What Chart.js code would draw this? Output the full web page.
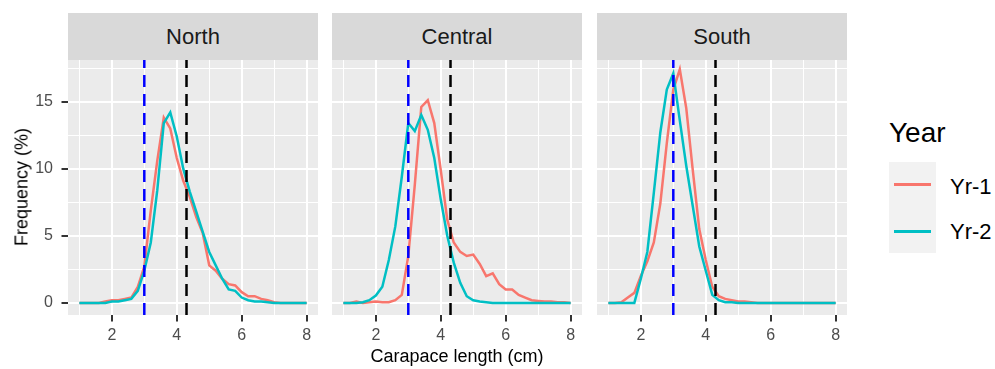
<!DOCTYPE html>
<html>
<head>
<meta charset="utf-8">
<script src="https://cdn.jsdelivr.net/npm/chart.js@4.4.1/dist/chart.umd.min.js"></script>
<style>
  body { margin: 0; background: #fff; font-family: "Liberation Sans", Arial, sans-serif; }
  #wrap { position: relative; width: 995px; height: 369px; overflow: hidden; }
  canvas { position: absolute; }
  .strip { position: absolute; top: 13px; height: 47px; line-height: 47px; background: #D9D9D9;
           color: #1A1A1A; font-size: 22px; text-align: center; }
  .title { position: absolute; font-size: 18px; color: #000; white-space: nowrap; }
  .leg { position: absolute; white-space: nowrap; color: #000; }
</style>
</head>
<body>
<div id="wrap">
  <div class="strip" style="left:68px;width:250px">North</div>
  <div class="strip" style="left:332px;width:250px">Central</div>
  <div class="strip" style="left:597px;width:250px">South</div>

  <canvas id="north" width="318" height="295" style="left:0px;top:60px"></canvas>
  <canvas id="central" width="250" height="295" style="left:332px;top:60px"></canvas>
  <canvas id="south" width="250" height="295" style="left:597px;top:60px"></canvas>

  <div class="title" style="left:22px;top:187px;transform:translate(-50%,-50%) rotate(-90deg)">Frequency (%)</div>
  <div class="title" style="left:457px;top:346px;transform:translateX(-50%)">Carapace length (cm)</div>

  <div class="leg" style="left:889px;top:119px;font-size:28px;line-height:28px">Year</div>
  <div class="leg" style="left:889px;top:162px;width:47px;height:91px;background:#F2F2F2"></div>
  <div class="leg" style="left:894px;top:183px;width:37px;height:2.5px;background:#F8766D"></div>
  <div class="leg" style="left:894px;top:230px;width:37px;height:2.5px;background:#00BFC4"></div>
  <div class="leg" style="left:950px;top:176px;font-size:22px;line-height:22px">Yr-1</div>
  <div class="leg" style="left:950px;top:221px;font-size:22px;line-height:22px">Yr-2</div>
</div>

<script>
// carapace length bins (cm)
const lengths = [1.0, 1.2, 1.4, 1.6, 1.8, 2.0, 2.2, 2.4, 2.6, 2.8, 3.0, 3.2, 3.4, 3.6, 3.8, 4.0, 4.2, 4.4,
                 4.6, 4.8, 5.0, 5.2, 5.4, 5.6, 5.8, 6.0, 6.2, 6.4, 6.6, 6.8, 7.0, 7.2, 7.4, 7.6, 7.8, 8.0];

// frequency (%) per bin
const northYr1 = [0, 0, 0, 0, 0.1, 0.2, 0.2, 0.3, 0.4, 1.2, 2.7, 6.9, 10.6, 13.8, 13.0, 10.8, 9.1, 7.9,
                  6.4, 5.2, 2.8, 2.4, 1.8, 1.4, 1.3, 0.8, 0.5, 0.5, 0.3, 0.2, 0.05, 0, 0, 0, 0, 0];
const northYr2 = [0, 0, 0, 0, 0, 0.1, 0.1, 0.2, 0.3, 0.9, 2.4, 4.5, 8.4, 13.4, 14.2, 12.4, 10.0, 8.3,
                  6.8, 5.3, 3.8, 2.8, 1.8, 1.0, 0.9, 0.4, 0.2, 0.1, 0.1, 0.05, 0, 0, 0, 0, 0, 0];
const centralYr1 = [0, 0, 0.1, 0, 0.05, 0.1, 0.05, 0.05, 0.2, 0.6, 3.5, 8.8, 14.6, 15.1, 13.4, 9.9, 6.2, 4.5,
                    3.8, 3.5, 3.6, 2.9, 2.0, 2.2, 1.4, 1.0, 1.0, 0.6, 0.4, 0.2, 0.15, 0.1, 0.1, 0.05, 0.05, 0];
const centralYr2 = [0, 0, 0, 0.05, 0.2, 0.55, 1.2, 3.2, 5.7, 9.4, 13.4, 12.8, 14.0, 12.9, 10.8, 7.7, 5.0, 3.0,
                    1.5, 0.5, 0.2, 0.1, 0.05, 0, 0, 0, 0, 0, 0, 0, 0, 0, 0, 0, 0, 0];
const southYr1 = [0, 0, 0.05, 0.4, 0.75, 2.0, 3.1, 4.5, 7.4, 11.9, 15.9, 17.4, 14.5, 9.9, 5.5, 3.2, 1.2, 0.5,
                  0.3, 0.2, 0.1, 0.1, 0.05, 0, 0, 0, 0, 0, 0, 0, 0, 0, 0, 0, 0, 0];
const southYr2 = [0, 0, 0, 0, 0, 1.8, 3.8, 8.2, 12.7, 15.9, 17.1, 13.6, 10.2, 7.2, 4.2, 2.4, 0.6, 0.2,
                  0.05, 0.05, 0, 0, 0, 0, 0, 0, 0, 0, 0, 0, 0, 0, 0, 0, 0, 0];

// reference lines (cm)
const blueLine = 3;
const blackLine = 4.3;

// axis ticks
const xTicks = [2, 4, 6, 8];
const yTicks = [0, 5, 10, 15];
const xMinor = xTicks.map(v => v - 1);
const yMinor = yTicks.map(v => v + 2.5);

const xMin = 0.65, xMax = 8.35;
const yMin = -0.9, yMax = 18.1;

const red = "#F8766D";
const teal = "#00BFC4";

const panelBg = {
    id: "panelBg",
    beforeDraw(chart) {
        const a = chart.chartArea;
        const c = chart.ctx;
        c.save();
        c.fillStyle = "#EBEBEB";
        c.fillRect(a.left, a.top, a.right - a.left, a.bottom - a.top);
        c.restore();
    }
};

function pts(ys) {
    return lengths.map((x, i) => ({ x: x, y: ys[i] }));
}

function vline(x, color) {
    return {
        data: [{ x: x, y: yMin }, { x: x, y: yMax }],
        borderColor: color,
        borderWidth: 2.5,
        borderDash: [12, 7],
        pointRadius: 0,
        order: 0
    };
}

function makePanel(id, yr1, yr2, showY) {
    const allX = xMinor.concat(xTicks).sort((a, b) => a - b);
    const allY = yTicks.concat(yMinor).sort((a, b) => a - b);

    new Chart(document.getElementById(id), {
        type: "line",
        data: {
            datasets: [
                vline(blueLine, "#0000FF"),
                vline(blackLine, "#000000"),
                { data: pts(yr2), borderColor: teal, borderWidth: 2.5, pointRadius: 0, tension: 0, order: 1 },
                { data: pts(yr1), borderColor: red, borderWidth: 2.5, pointRadius: 0, tension: 0, order: 2 }
            ]
        },
        plugins: [panelBg],
        options: {
            responsive: false,
            animation: false,
            devicePixelRatio: 1,
            layout: { padding: 0 },
            plugins: { legend: { display: false }, tooltip: { enabled: false } },
            scales: {
                x: {
                    type: "linear",
                    min: xMin,
                    max: xMax,
                    afterBuildTicks: axis => { axis.ticks = allX.map(v => ({ value: v })); },
                    afterFit: axis => { axis.height = 40; axis.paddingLeft = 0; axis.paddingRight = 0; },
                    border: { display: false },
                    grid: {
                        color: "#FFFFFF",
                        lineWidth: ctx => xTicks.includes(ctx.tick.value) ? 2 : 1,
                        tickLength: 6.5,
                        tickWidth: 2,
                        tickColor: ctx => xTicks.includes(ctx.tick.value) ? "#333333" : "rgba(0,0,0,0)"
                    },
                    ticks: {
                        autoSkip: false,
                        maxRotation: 0,
                        padding: 4,
                        color: "#4D4D4D",
                        font: { family: "Liberation Sans", size: 16 },
                        callback: v => xTicks.includes(v) ? String(v) : ""
                    }
                },
                y: {
                    min: yMin,
                    max: yMax,
                    afterBuildTicks: axis => { axis.ticks = allY.map(v => ({ value: v })); },
                    afterFit: axis => { axis.width = showY ? 68 : 0; axis.paddingTop = 0; axis.paddingBottom = 0; },
                    border: { display: false },
                    grid: {
                        color: "#FFFFFF",
                        lineWidth: ctx => yTicks.includes(ctx.tick.value) ? 2 : 1,
                        drawTicks: showY,
                        tickLength: 6.5,
                        tickWidth: 2,
                        tickColor: ctx => yTicks.includes(ctx.tick.value) ? "#333333" : "rgba(0,0,0,0)"
                    },
                    ticks: {
                        display: showY,
                        autoSkip: false,
                        padding: 8.5,
                        color: "#4D4D4D",
                        font: { family: "Liberation Sans", size: 16 },
                        callback: v => yTicks.includes(v) ? String(v) : ""
                    }
                }
            }
        }
    });
}

makePanel("north", northYr1, northYr2, true);
makePanel("central", centralYr1, centralYr2, false);
makePanel("south", southYr1, southYr2, false);
</script>
</body>
</html>
